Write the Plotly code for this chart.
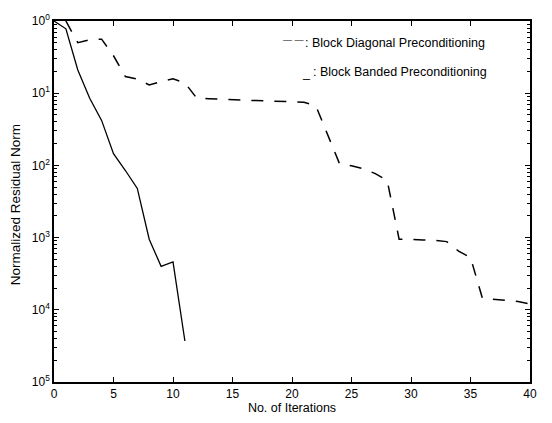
import plotly.graph_objects as go

# Convergence history of the two preconditioners
banded_iter = [0, 1, 2, 3, 4, 5, 6, 7, 8, 9, 10, 11]
banded_resid = [1.0, 0.78, 0.21, 0.085, 0.042, 0.0145, 0.0085, 0.0048,
                0.00095, 0.0004, 0.00046, 3.7e-5]

diag_iter = list(range(1, 41))
diag_resid = [1.0, 0.5, 0.55, 0.56, 0.33, 0.17, 0.157, 0.13, 0.145, 0.158,
              0.139, 0.085, 0.084, 0.082, 0.081, 0.080, 0.079, 0.078, 0.077,
              0.076, 0.075, 0.067, 0.026, 0.0105, 0.0099, 0.0090, 0.0077,
              0.0062, 0.00095, 0.00095, 0.00093, 0.00092, 0.00088, 0.00065,
              0.00053, 0.000145, 0.00014, 0.000135, 0.00013, 0.00012]

y_tickvals = [1, 1e-1, 1e-2, 1e-3, 1e-4, 1e-5]
y_ticktext = ["10<sup>0</sup>", "10<sup>1</sup>", "10<sup>2</sup>",
              "10<sup>3</sup>", "10<sup>4</sup>", "10<sup>5</sup>"]
x_tickvals = [0, 5, 10, 15, 20, 25, 30, 35, 40]

# minor ticks 2..9 inside each decade
y_minor = [m * 10.0 ** e for e in range(-5, 0) for m in range(2, 10)]

FONT = "Liberation Sans, Arial, Helvetica, sans-serif"
L, R, T, B, W, H = 54, 22, 12, 37, 552, 423

fig = go.Figure()
fig.add_trace(go.Scatter(x=diag_iter, y=diag_resid, mode="lines",
                         line=dict(color="black", width=1.5, dash="12px,11px"),
                         name="Block Diagonal Preconditioning"))
fig.add_trace(go.Scatter(x=banded_iter, y=banded_resid, mode="lines",
                         line=dict(color="black", width=1.3),
                         name="Block Banded Preconditioning"))

fig.update_layout(
    width=W, height=H,
    margin=dict(l=L, r=R, t=T, b=B),
    paper_bgcolor="white", plot_bgcolor="white",
    showlegend=False,
    font=dict(family=FONT, size=12, color="black"),
)
fig.update_xaxes(
    range=[0, 40], tickmode="array", tickvals=x_tickvals,
    ticks="inside", ticklen=5, tickwidth=1, tickcolor="black",
    showline=True, linecolor="black", linewidth=1.6, mirror="ticks",
    showgrid=False, zeroline=False,
    title=dict(text="No. of Iterations", standoff=1, font=dict(size=12.5)),
    tickfont=dict(size=12),
)
fig.update_yaxes(
    type="log", range=[-5, 0], tickmode="array",
    tickvals=y_tickvals, ticktext=y_ticktext,
    ticks="inside", ticklen=5, tickwidth=1, tickcolor="black",
    minor=dict(tickmode="array", tickvals=y_minor, ticks="inside",
               ticklen=3, tickwidth=1, tickcolor="black", showgrid=False),
    showline=True, linecolor="black", linewidth=1.6, mirror="ticks",
    showgrid=False, zeroline=False,
    tickfont=dict(size=12),
)


def px_to_paper(px, py):
    return (px - L) / (W - L - R), 1 - (py - T) / (H - T - B)


# y-axis title, placed closer to the edge than the automatic position
tx, ty = px_to_paper(15, 203)
fig.add_annotation(x=tx, y=ty, xref="paper", yref="paper",
                   text="Normalized Residual Norm", textangle=-90,
                   showarrow=False, xanchor="center", yanchor="middle",
                   font=dict(size=13.5))

# Inline key written beside the curves
key = [
    (281, 32, "— —", 9),
    (303, 35, ": Block Diagonal Preconditioning", 12.5),
    (300, 66, "_", 12.5),
    (311, 65, ": Block Banded Preconditioning", 12.5),
]
for px, py, txt, size in key:
    ax, ay = px_to_paper(px, py)
    fig.add_annotation(x=ax, y=ay, xref="paper", yref="paper", text=txt,
                       showarrow=False, xanchor="left", yanchor="middle",
                       font=dict(size=size))

fig.write_html("out.html")
